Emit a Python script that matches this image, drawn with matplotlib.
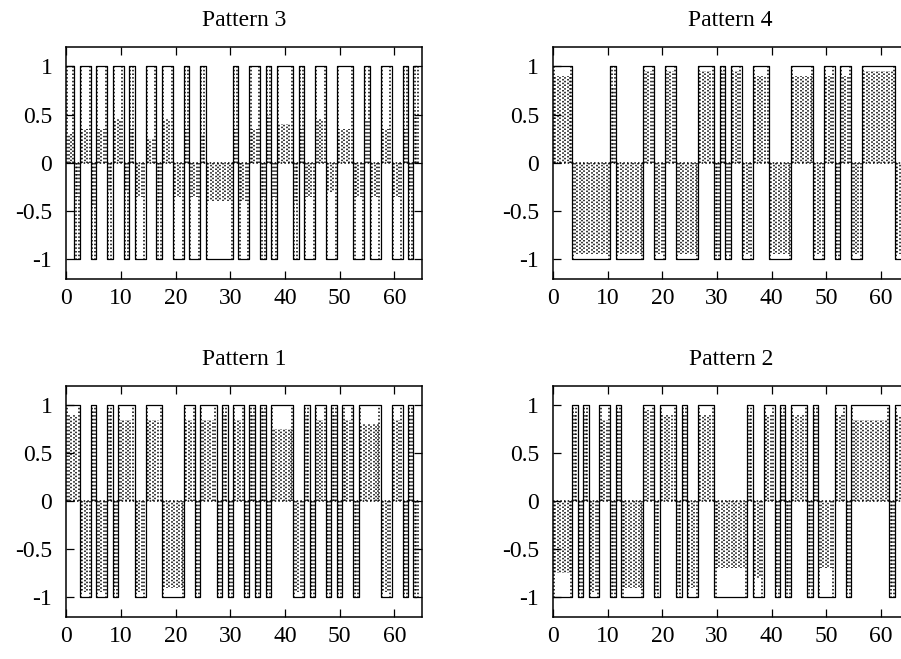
import matplotlib
matplotlib.use("Agg")
import matplotlib.pyplot as plt
import numpy as np

plt.rcParams['font.family'] = ['Liberation Serif', 'DejaVu Serif']
plt.rcParams['axes.unicode_minus'] = False

# bit patterns as run lengths of equal bits (bits 0..64), first run sign given
runs_p3 = [2, 1, 2, 1, 2, 1, 2, 1, 1, 2, 2, 1, 2, 2, 1, 2, 1, 5, 1, 2, 2, 1, 1, 1,
           3, 1, 1, 2, 2, 2, 3, 2, 1, 2, 2, 2, 1, 1, 1]
runs_p4 = [4, 7, 1, 5, 2, 2, 2, 4, 3, 1, 1, 1, 2, 2, 3, 4, 4, 2, 2, 1, 2, 2, 6, 2]
runs_p1 = [3, 2, 1, 2, 1, 1, 3, 2, 3, 4, 2, 1, 3, 1, 1, 1, 2, 1, 1, 1, 1, 1, 4, 2,
           1, 1, 2, 1, 1, 1, 2, 1, 4, 2, 2, 1, 1, 1]
runs_p2 = [4, 1, 1, 1, 2, 2, 1, 1, 4, 2, 1, 3, 1, 1, 2, 3, 6, 1, 2, 2, 1, 1, 1, 3,
           1, 1, 3, 2, 1, 7, 1, 2]
first_p3, first_p4, first_p1, first_p2 = 1, 1, 1, -1

# height of the dotted response inside each run (same order as the runs)
amp_p3 = [0.3, 0.35, 0.35, 0.45, 0.35, 0.3, 0.45, 0.3, 0.35, 0.35, 0.25, 0.4,
          0.45, 0.35, 0.35, 0.35, 0.3, 0.4, 0.35, 0.4, 0.35, 0.35, 0.5, 0.35,
          0.4, 0.4, 0.35, 0.35, 0.45, 0.3, 0.35, 0.35, 0.45, 0.35, 0.35, 0.35,
          0.35, 0.3, 0.5]
amp_p4 = [0.9, 0.95, 0.8, 0.95, 0.95, 0.95, 0.95, 0.95, 0.95, 0.95, 0.95, 0.95,
          0.95, 0.95, 0.9, 0.95, 0.9, 0.95, 0.9, 0.95, 0.9, 0.95, 0.95, 0.95]
amp_p1 = [0.9, 0.95, 0.95, 0.95, 0.95, 0.9, 0.85, 0.95, 0.85, 0.9, 0.85, 0.95,
          0.85, 0.95, 0.9, 0.95, 0.85, 0.95, 0.9, 0.95, 0.95, 0.95, 0.75, 0.95,
          0.9, 0.95, 0.85, 0.95, 0.9, 0.95, 0.85, 0.95, 0.8, 0.95, 0.85, 0.95,
          0.9, 0.95]
amp_p2 = [0.75, 0.9, 0.95, 0.9, 0.95, 0.85, 0.95, 0.95, 0.9, 0.95, 0.95, 0.9,
          0.9, 0.9, 0.9, 0.9, 0.7, 0.9, 0.8, 0.9, 0.9, 0.9, 0.9, 0.9, 0.9, 0.9,
          0.7, 0.9, 0.9, 0.85, 0.9, 0.9]

xticks = [0, 10, 20, 30, 40, 50, 60]
yticks = [-1, -0.5, 0, 0.5, 1]
yticklabels = ['-1', '-0.5', '0', '0.5', '1']


def panel(ax, runs, first, amps, title):
    assert len(runs) == len(amps), (title, len(runs), len(amps))
    signs = first * (-1) ** np.arange(len(runs))
    b = np.repeat(signs, runs)
    x = np.arange(len(b))
    ax.step(x, b, where='mid', color='k', lw=0.9)
    ends = np.cumsum(runs)
    starts = ends - np.array(runs)
    dotA = dict(colors='k', linestyles=[(0, (1, 1.4))], lw=1.1)
    dotB = dict(colors='k', linestyles=[(1.2, (1, 1.4))], lw=1.1)
    for i0, n, s, a in zip(starts, runs, signs, amps):
        lo = max(i0 - 0.5, 0)
        hi = i0 + n - 0.5
        cols = np.arange(lo + 0.45, hi - 0.3, 0.45)
        ax.vlines(cols[::2], 0, s * a, **dotA)
        ax.vlines(cols[1::2], 0, s * a, **dotB)
        ax.hlines(0, lo, hi, **dotA)
        ax.vlines([lo + 0.22, hi - 0.22], 0, s, **dotA)
    ax.set_xlim(0, 65)
    ax.set_ylim(-1.2, 1.2)
    ax.set_xticks(xticks)
    ax.set_yticks(yticks)
    ax.set_yticklabels(yticklabels)
    ax.tick_params(direction='in', top=True, right=True, length=6, width=0.9,
                   labelsize=17)
    ax.tick_params(axis='x', pad=7)
    ax.tick_params(axis='y', pad=10)
    for sp in ax.spines.values():
        sp.set_linewidth(1.1)
    ax.set_title(title, fontsize=17, pad=15)


fig = plt.figure(figsize=(9.01, 6.59), dpi=100)
W, H = 901, 659
boxes = {
    'p3': (66.2, 47, 355.5, 231.5),
    'p4': (553, 47, 355.5, 231.5),
    'p1': (66.2, 386, 355.5, 230.5),
    'p2': (553, 386, 355.5, 230.5),
}


def add(key):
    l, t, w, h = boxes[key]
    return fig.add_axes([l / W, 1 - (t + h) / H, w / W, h / H])


panel(add('p3'), runs_p3, first_p3, amp_p3, 'Pattern 3')
panel(add('p4'), runs_p4, first_p4, amp_p4, 'Pattern 4')
panel(add('p1'), runs_p1, first_p1, amp_p1, 'Pattern 1')
panel(add('p2'), runs_p2, first_p2, amp_p2, 'Pattern 2')

fig.savefig('out.png', dpi=100)
